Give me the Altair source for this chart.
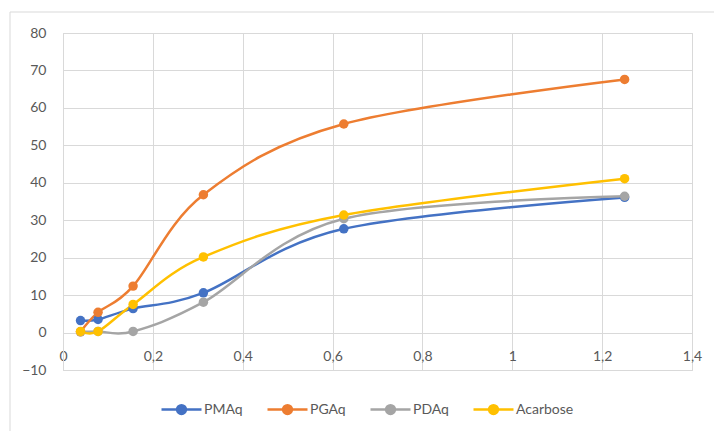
import altair as alt
import pandas as pd

x_vals = [0.039, 0.078, 0.156, 0.3125, 0.625, 1.25]
pmaq = [3.2, 3.5, 6.4, 10.6, 27.7, 36.1]
pgaq = [0.2, 5.4, 12.4, 36.8, 55.7, 67.6]
pdaq = [0.2, 0.3, 0.3, 8.1, 30.4, 36.4]
acarbose = [0.3, 0.3, 7.5, 20.2, 31.4, 41.1]

series_names = ["PMAq", "PGAq", "PDAq", "Acarbose"]
series_values = [pmaq, pgaq, pdaq, acarbose]
colors = ["#4472C4", "#ED7D31", "#A5A5A5", "#FFC000"]

rows = []
for name, vals in zip(series_names, series_values):
    for xv, yv in zip(x_vals, vals):
        rows.append({"x": xv, "y": yv, "series": name})
df = pd.DataFrame(rows)

FONT = "Lato"
TXT = "#595959"
GRID = "#D9D9D9"

color = alt.Color(
    "series:N",
    scale=alt.Scale(domain=series_names, range=colors),
    legend=alt.Legend(
        title=None,
        orient="none",
        legendX=97,
        legendY=355,
        direction="horizontal",
        symbolType="M-1,0L1,0M-0.22,0A0.22,0.22,0,1,1,0.22,0A0.22,0.22,0,1,1,-0.22,0Z",
        symbolSize=1600,
        symbolStrokeWidth=2.5,
        labelFont=FONT,
        labelFontSize=14,
        labelColor=TXT,
        columnPadding=19,
        labelOffset=1,
    ),
)

xenc = alt.X(
    "x:Q",
    scale=alt.Scale(domain=[0, 1.4], nice=False, zero=False),
    axis=alt.Axis(
        values=[0, 0.2, 0.4, 0.6, 0.8, 1.0, 1.2, 1.4],
        labelExpr="replace(format(datum.value, '~g'), '.', ',')",
        grid=True,
        gridColor=GRID,
        domain=False,
        ticks=False,
        offset=-37,
        labelPadding=16,
        labelFlush=False,
        labelOverlap=False,
        labelFont=FONT,
        labelFontSize=14,
        labelColor=TXT,
        title=None,
    ),
)
yenc = alt.Y(
    "y:Q",
    scale=alt.Scale(domain=[-10, 80], nice=False, zero=False),
    axis=alt.Axis(
        values=list(range(-10, 81, 10)),
        grid=True,
        gridColor=GRID,
        domain=True,
        domainColor=GRID,
        ticks=False,
        labelPadding=17,
        labelOverlap=False,
        labelFlush=False,
        labelFont=FONT,
        labelFontSize=14,
        labelColor=TXT,
        title=None,
    ),
)

border = alt.Chart(pd.DataFrame({"a": [0]})).mark_rect(
    fill=None, stroke=GRID, strokeWidth=1
).encode(
    x=alt.value(-53), x2=alt.value(700), y=alt.value(-21), y2=alt.value(460)
)

lines = alt.Chart(df).mark_line(
    interpolate="cardinal", tension=0, strokeWidth=2.5
).encode(x=xenc, y=yenc, color=color, order="x:Q")

points = alt.Chart(df).mark_point(
    filled=True, size=90, opacity=1
).encode(x=xenc, y=yenc, color=color)

chart = alt.layer(border, lines, points).properties(
    width=629,
    height=337,
    padding={"left": 63, "top": 33, "right": 22, "bottom": 61},
    autosize=alt.AutoSizeParams(type="none"),
    background="white",
).configure_view(stroke=GRID, strokeWidth=1)

chart.save("out.html", embed_options={"renderer": "svg", "actions": False})
